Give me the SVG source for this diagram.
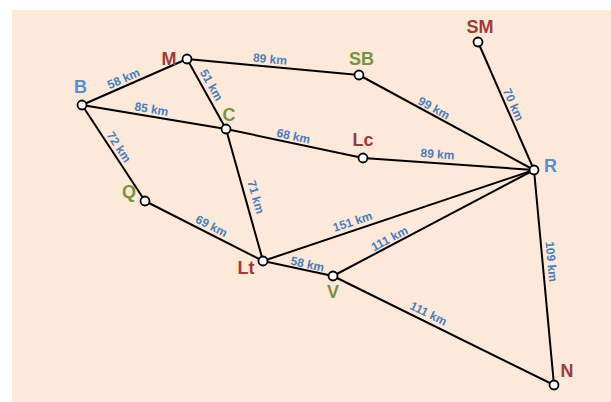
<svg xmlns="http://www.w3.org/2000/svg" width="611" height="402" viewBox="0 0 611 402">
<style>
.e{stroke:#000;stroke-width:2;fill:none}
.n{fill:#fff;stroke:#000;stroke-width:1.8}
.lbl{font-family:"Liberation Sans",Arial,sans-serif;font-weight:bold;font-size:18px;text-anchor:middle}
.bl{fill:#558ED5}.rd{fill:#A0393A}.gr{fill:#77933C}
.km{font-family:"Liberation Sans",Arial,sans-serif;font-weight:bold;font-size:12px;fill:#4A7EBB;text-anchor:middle}
</style>
<rect x="12" y="10" width="599" height="392" fill="#FDE9DA"/>
<g id="connectors">
<line class="e" x1="82" y1="105" x2="187" y2="59"/>
<line class="e" x1="82" y1="105" x2="226" y2="129"/>
<line class="e" x1="187" y1="59" x2="226" y2="129"/>
<line class="e" x1="82" y1="105" x2="145" y2="201"/>
<line class="e" x1="187" y1="59" x2="359" y2="75"/>
<line class="e" x1="359" y1="75" x2="534" y2="170"/>
<line class="e" x1="478" y1="42" x2="534" y2="170"/>
<line class="e" x1="226" y1="129" x2="363" y2="158"/>
<line class="e" x1="363" y1="158" x2="534" y2="170"/>
<line class="e" x1="226" y1="129" x2="263" y2="261"/>
<line class="e" x1="145" y1="201" x2="263" y2="261"/>
<line class="e" x1="263" y1="261" x2="534" y2="170"/>
<line class="e" x1="263" y1="261" x2="333" y2="276"/>
<line class="e" x1="333" y1="276" x2="534" y2="170"/>
<line class="e" x1="534" y1="170" x2="554" y2="385"/>
<line class="e" x1="333" y1="276" x2="554" y2="385"/>
<text class="km" transform="translate(123.5,78.5) rotate(-23.7)" dy="0.35em">58 km</text>
<text class="km" transform="translate(151.5,109) rotate(9.5)" dy="0.35em">85 km</text>
<text class="km" transform="translate(211.5,85) rotate(60.9)" dy="0.35em">51 km</text>
<text class="km" transform="translate(119,147) rotate(56.7)" dy="0.35em">72 km</text>
<text class="km" transform="translate(270,59) rotate(5.3)" dy="0.35em">89 km</text>
<text class="km" transform="translate(434,108) rotate(28.5)" dy="0.35em">99 km</text>
<text class="km" transform="translate(513.5,104.5) rotate(66.4)" dy="0.35em">70 km</text>
<text class="km" transform="translate(293.5,136) rotate(12)" dy="0.35em">68 km</text>
<text class="km" transform="translate(437.5,154) rotate(4)" dy="0.35em">89 km</text>
<text class="km" transform="translate(256,197) rotate(74.3)" dy="0.35em">71 km</text>
<text class="km" transform="translate(211.5,226) rotate(27)" dy="0.35em">69 km</text>
<text class="km" transform="translate(352.5,221.5) rotate(-18.6)" dy="0.35em">151 km</text>
<text class="km" transform="translate(307.5,264) rotate(12.1)" dy="0.35em">58 km</text>
<text class="km" transform="translate(389.5,238.5) rotate(-27.8)" dy="0.35em">111 km</text>
<text class="km" transform="translate(551.5,261.5) rotate(84.7)" dy="0.35em">109 km</text>
<text class="km" transform="translate(428.5,313.5) rotate(26.3)" dy="0.35em">111 km</text>
</g>
<g id="node-B"><circle class="n" cx="82" cy="105" r="4.5"/><text class="lbl bl" x="80.5" y="93">B</text></g>
<g id="node-M"><circle class="n" cx="187" cy="59" r="4.5"/><text class="lbl rd" x="169" y="65">M</text></g>
<g id="node-C"><circle class="n" cx="226" cy="129" r="4.5"/><text class="lbl gr" x="229" y="121">C</text></g>
<g id="node-SB"><circle class="n" cx="359" cy="75" r="4.5"/><text class="lbl gr" x="361.5" y="65">SB</text></g>
<g id="node-SM"><circle class="n" cx="478" cy="42" r="4.5"/><text class="lbl rd" x="480" y="33">SM</text></g>
<g id="node-Lc"><circle class="n" cx="363" cy="158" r="4.5"/><text class="lbl rd" x="363" y="146">Lc</text></g>
<g id="node-R"><circle class="n" cx="534" cy="170" r="4.5"/><text class="lbl bl" x="550.5" y="172">R</text></g>
<g id="node-Q"><circle class="n" cx="145" cy="201" r="4.5"/><text class="lbl gr" x="129" y="198">Q</text></g>
<g id="node-Lt"><circle class="n" cx="263" cy="261" r="4.5"/><text class="lbl rd" x="246" y="274">Lt</text></g>
<g id="node-V"><circle class="n" cx="333" cy="276" r="4.5"/><text class="lbl gr" x="333" y="298">V</text></g>
<g id="node-N"><circle class="n" cx="554" cy="385" r="4.5"/><text class="lbl rd" x="567" y="377">N</text></g>
</svg>
